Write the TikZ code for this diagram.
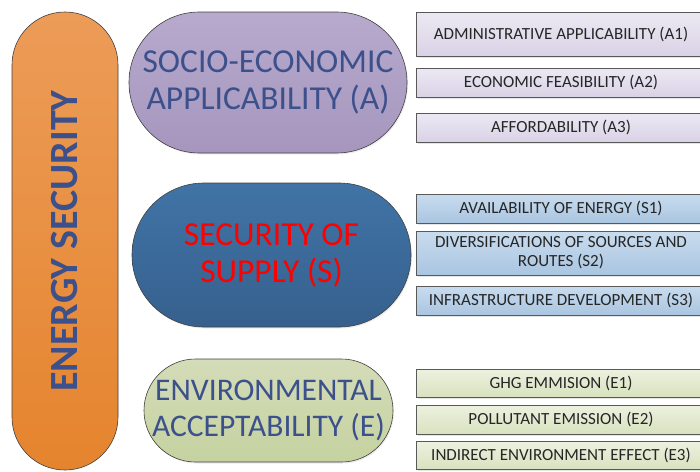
\documentclass[tikz,border=0pt]{standalone}
\usepackage{fontspec}
\setmainfont{Carlito}
\usetikzlibrary{shadows}
\definecolor{es_light}{RGB}{236,156,88}
\definecolor{es_dark}{RGB}{229,132,46}
\definecolor{ap_light}{RGB}{183,170,205}
\definecolor{ap_dark}{RGB}{166,150,190}
\definecolor{ss_light}{RGB}{64,116,166}
\definecolor{ss_dark}{RGB}{54,96,142}
\definecolor{ea_light}{RGB}{212,220,184}
\definecolor{ea_dark}{RGB}{197,210,160}
\definecolor{apb_light}{RGB}{236,233,243}
\definecolor{apb_dark}{RGB}{217,210,230}
\definecolor{ssb_light}{RGB}{200,220,239}
\definecolor{ssb_dark}{RGB}{170,197,225}
\definecolor{eab_light}{RGB}{237,241,224}
\definecolor{eab_dark}{RGB}{216,226,190}
\definecolor{txt_blue}{RGB}{60,80,140}
\tikzstyle{es}=[rectangle,draw=black!75,line width=0.6pt,
  top color=es_light,bottom color=es_dark,text=txt_blue,
  font=\fontsize{40}{44}\selectfont\bfseries]
\tikzstyle{pill}=[rectangle,draw=black!75,line width=0.6pt,align=center,
  text=txt_blue,font=\fontsize{33.5}{37}\selectfont,
  drop shadow={opacity=0.15,shadow xshift=1pt,shadow yshift=-1.5pt}]
\tikzstyle{ind}=[rectangle,draw=black!65,line width=0.6pt,align=center,
  minimum width=290pt,minimum height=29pt,inner sep=1pt,text=black!85,
  font=\fontsize{17}{19}\selectfont,
  drop shadow={opacity=0.2,shadow xshift=1.5pt,shadow yshift=-1.5pt}]
\tikzstyle{ap}=[ind,top color=apb_light,bottom color=apb_dark]
\tikzstyle{ss}=[ind,top color=ssb_light,bottom color=ssb_dark]
\tikzstyle{ea}=[ind,top color=eab_light,bottom color=eab_dark]

\begin{document}
\begin{tikzpicture}[x=1pt,y=-1pt]
    \path[clip,use as bounding box] (0,0) rectangle (700,471);
    % main pillar
    \node [style=es,rotate=90,minimum width=458pt,minimum height=106pt,
      rounded corners=52.9pt] (0) at (65,241) {ENERGY SECURITY};
    % dimensions
    \node [style=pill,minimum width=278pt,minimum height=141pt,rounded corners=70.4pt,
      top color=ap_light,bottom color=ap_dark] (A) at (268,82.5)
      {SOCIO-ECONOMIC\\APPLICABILITY (A)};
    \node [style=pill,minimum width=279pt,minimum height=144pt,rounded corners=71.9pt,
      top color=ss_light,bottom color=ss_dark,text=red] (S) at (271.5,255)
      {SECURITY OF\\SUPPLY (S)};
    \node [style=pill,minimum width=249pt,minimum height=103pt,rounded corners=51.4pt,
      top color=ea_light,bottom color=ea_dark,font=\fontsize{31.5}{36}\selectfont]
      (E) at (268.5,410.5) {ENVIRONMENTAL\\ACCEPTABILITY (E)};
    % indicators
    \node [style=ap,minimum height=44pt] (A1) at (561,34) {ADMINISTRATIVE APPLICABILITY (A1)};
    \node [style=ap] (A2) at (561,82.5) {ECONOMIC FEASIBILITY (A2)};
    \node [style=ap] (A3) at (561,127.5) {AFFORDABILITY (A3)};
    \node [style=ss] (S1) at (561,208.5) {AVAILABILITY OF ENERGY (S1)};
    \node [style=ss,minimum height=44pt] (S2) at (561,253)
      {DIVERSIFICATIONS OF SOURCES AND\\ROUTES (S2)};
    \node [style=ss] (S3) at (561,300.5) {INFRASTRUCTURE DEVELOPMENT (S3)};
    \node [style=ea,minimum height=28pt] (E1) at (561,383) {GHG EMMISION (E1)};
    \node [style=ea] (E2) at (561,419.5) {POLLUTANT EMISSION (E2)};
    \node [style=ea,minimum height=28pt] (E3) at (561,455.5) {INDIRECT ENVIRONMENT EFFECT (E3)};
\end{tikzpicture}
\end{document}
